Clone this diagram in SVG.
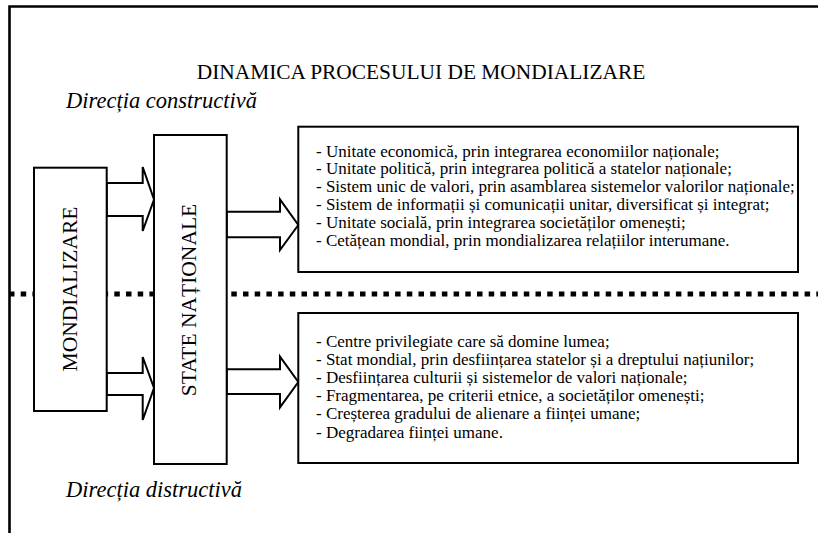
<svg xmlns="http://www.w3.org/2000/svg" width="818" height="533" viewBox="0 0 818 533">
<style>
.box{fill:#fff;stroke:#000;stroke-width:2}
.arr{fill:#fff;stroke:#000;stroke-width:2;stroke-linejoin:miter}
text{font-family:'Liberation Serif','DejaVu Serif',serif;fill:#000}
.li{font-size:17px}
.it{font-style:italic;font-size:22.5px}
.vt{font-size:21.5px}
</style>
<rect width="818" height="533" fill="#fff"/>
<g id="frame">
<path d="M9.5 533 V6.5 H818" fill="none" stroke="#000" stroke-width="2.6"/>
</g>
<g id="divider">
<line x1="9" y1="294" x2="818" y2="294" stroke="#000" stroke-width="5" stroke-dasharray="5.5 6.2"/>
</g>
<g id="labels">
<text x="421" y="79" font-size="21.4" text-anchor="middle">DINAMICA PROCESULUI DE MONDIALIZARE</text>
<text class="it" x="66" y="107.5">Direcția constructivă</text>
<text class="it" x="66" y="497">Direcția distructivă</text>
</g>
<g id="connectors">
<polygon class="arr" points="106.7,183 142.7,183 142.7,167 154,199.5 142.7,231 142.7,216 106.7,216"/>
<polygon class="arr" points="106.7,373 142.7,373 142.7,357 154,388 142.7,420 142.7,395 106.7,395"/>
<polygon class="arr" points="226.7,211.7 280,211.7 280,199.3 298.3,225 280,250 280,237.3 226.7,237.3"/>
<polygon class="arr" points="226.7,369.3 280,369.3 280,356.7 298.3,382 280,407.3 280,394 226.7,394"/>
</g>
<g id="mondializare">
<rect class="box" x="34" y="167.7" width="72.7" height="243.3"/>
<text class="vt" transform="translate(77,289) rotate(-90)" text-anchor="middle">MONDIALIZARE</text>
</g>
<g id="state">
<rect class="box" x="154" y="135" width="72.7" height="329"/>
<text class="vt" transform="translate(196,300) rotate(-90)" text-anchor="middle">STATE NAȚIONALE</text>
</g>
<g id="constructiva">
<rect class="box" x="298.3" y="126.7" width="499.7" height="145.3"/>
<text class="li" x="316" y="156.5">- Unitate economică, prin integrarea economiilor naționale;</text>
<text class="li" x="316" y="174.3">- Unitate politică, prin integrarea politică a statelor naționale;</text>
<text class="li" x="316" y="192.1">- Sistem unic de valori, prin asamblarea sistemelor valorilor naționale;</text>
<text class="li" x="316" y="209.9">- Sistem de informații și comunicații unitar, diversificat și integrat;</text>
<text class="li" x="316" y="227.7">- Unitate socială, prin integrarea societăților omenești;</text>
<text class="li" x="316" y="245.5">- Cetățean mondial, prin mondializarea relațiilor interumane.</text>
</g>
<g id="distructiva">
<rect class="box" x="298.3" y="313" width="499.7" height="150"/>
<text class="li" x="316" y="346.5">- Centre privilegiate care să domine lumea;</text>
<text class="li" x="316" y="364.7">- Stat mondial, prin desființarea statelor și a dreptului națiunilor;</text>
<text class="li" x="316" y="382.9">- Desființarea culturii și sistemelor de valori naționale;</text>
<text class="li" x="316" y="401.1">- Fragmentarea, pe criterii etnice, a societăților omenești;</text>
<text class="li" x="316" y="419.3">- Creșterea gradului de alienare a ființei umane;</text>
<text class="li" x="316" y="437.5">- Degradarea ființei umane.</text>
</g>
</svg>
